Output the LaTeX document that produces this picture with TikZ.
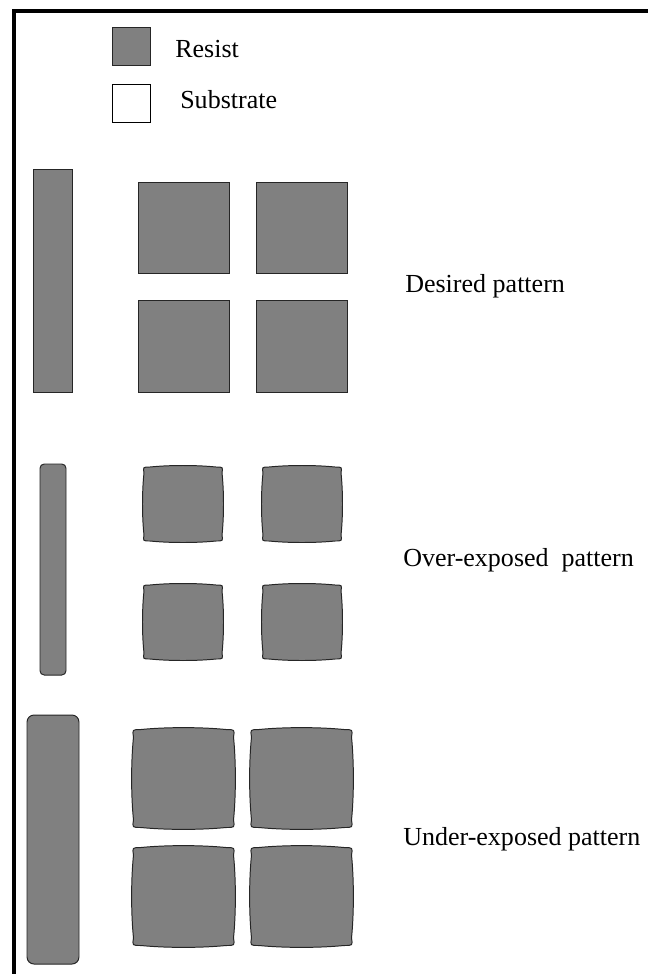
\documentclass[tikz,border=0pt]{standalone}
\usepackage{fontspec}
\setmainfont{Liberation Serif}
\usepackage{xcolor}
\usepackage{tikz}
\usetikzlibrary{positioning}

\definecolor{resistfill}{RGB}{128,128,128}

\begin{document}
\begin{tikzpicture}[
    x=0.025cm, y=-0.025cm,
    frame/.style={line width=2.5pt, black},
    resist/.style={draw=black!85, fill=resistfill, line width=0.7pt},
    substrate/.style={draw=black, fill=white, line width=0.7pt},
    legendbox/.style={minimum width=0.95cm, minimum height=0.95cm, inner sep=0pt},
    label/.style={anchor=base west, inner sep=0pt, font=\fontsize{18.5}{22}\selectfont},
    pics/blob/.style args={#1/#2/#3/#4}{code={
        \path[resist] (-#1+#3,-#2+#4) .. controls (-#1/3,-#2) and (#1/3,-#2) .. (#1-#3,-#2+#4)
            .. controls (#1-#4/2,-#2+#4) .. (#1-#4,-#2+#3)
            .. controls (#1,-#2/3) and (#1,#2/3) .. (#1-#4,#2-#3)
            .. controls (#1-#4/2,#2-#4) .. (#1-#3,#2-#4)
            .. controls (#1/3,#2) and (-#1/3,#2) .. (-#1+#3,#2-#4)
            .. controls (-#1+#4/2,#2-#4) .. (-#1+#4,#2-#3)
            .. controls (-#1,#2/3) and (-#1,-#2/3) .. (-#1+#4,-#2+#3)
            .. controls (-#1+#4/2,-#2+#4) .. cycle;
    }}
]
\useasboundingbox (0,0) rectangle (648,974);

% frame
\draw[frame] (14,974) -- (14,11) -- (648,11);

% legend
\node[resist, legendbox] (resistkey) at (131,46) {};
\node[substrate, legendbox] (substratekey) at (131,103) {};
\node[label] (resistlabel) at (175,57) {Resist};
\node[label] (substratelabel) at (180,108) {Substrate};

% desired pattern
\draw[resist] (33,169) rectangle (72,392);
\draw[resist] (138,182) rectangle (229,273);
\draw[resist] (256,182) rectangle (347,273);
\draw[resist] (138,300) rectangle (229,392);
\draw[resist] (256,300) rectangle (347,392);
\node[label] (desired) at (405,292) {Desired pattern};

% over-exposed pattern
\draw[resist, rounded corners=3pt] (40,464) rectangle (66,675);
\pic at (183,504) {blob=41/39/8/2};
\pic at (302,504) {blob=41/39/8/2};
\pic at (183,622) {blob=41/39/8/2};
\pic at (302,622) {blob=41/39/8/2};
\node[label] (over) at (403,566) {Over-exposed~~pattern};

% under-exposed pattern
\draw[resist, rounded corners=5pt] (27,715) rectangle (79,964);
\pic at (183.5,778.5) {blob=52.5/51.5/10/2.5};
\pic at (301.5,778.5) {blob=52.5/51.5/10/2.5};
\pic at (183.5,896.5) {blob=52.5/51.5/10/2.5};
\pic at (301.5,896.5) {blob=52.5/51.5/10/2.5};
\node[label] (under) at (403,845) {Under-exposed pattern};

\end{tikzpicture}
\end{document}
